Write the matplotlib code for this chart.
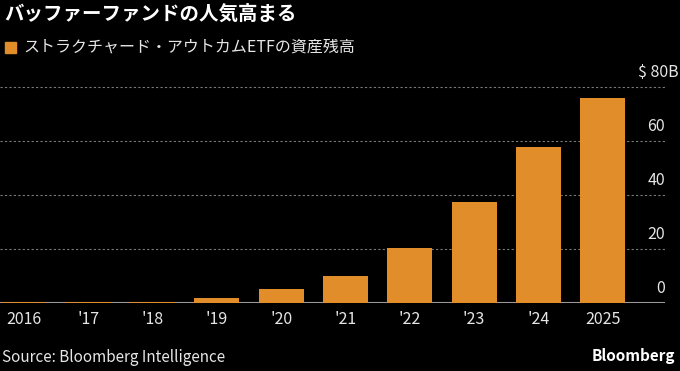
import matplotlib
matplotlib.use("Agg")
import matplotlib.pyplot as plt
from matplotlib.transforms import offset_copy, blended_transform_factory
from matplotlib.patches import Rectangle

plt.rcParams['font.family'] = ['Noto Sans CJK JP', 'DejaVu Sans']

years = ["2016", "'17", "'18", "'19", "'20", "'21", "'22", "'23", "'24", "2025"]
assets = [0.3, 0.4, 0.4, 1.9, 5.2, 10.0, 20.4, 37.4, 57.8, 75.9]
yticks = [0, 20, 40, 60, 80]
ylabels = ["0", "20", "40", "60", "$ 80B"]

title = "バッファーファンドの人気高まる"
legend_label = "ストラクチャード・アウトカムETFの資産残高"
source = "Source: Bloomberg Intelligence"

bg = "black"
bar_color = "#E08D2A"
text_color = "#E6E6E6"
grid_color = "#7a7a7a"

fig = plt.figure(figsize=(6.8, 3.71), dpi=100, facecolor=bg)
ax = fig.add_axes([0.0, 0.1833, 0.978, 0.5822], facecolor=bg)

x = list(range(len(years)))
ax.bar(x, assets, width=0.70, color=bar_color, zorder=3)

ax.set_xlim(-0.373, 9.97)
ax.set_ylim(0, 80)

for v in yticks[1:]:
    ax.axhline(v, color=grid_color, lw=0.8, ls=(0, (2, 2)), zorder=1, clip_on=False)
ax.axhline(0, color="#9a9a9a", lw=1.5, zorder=2)

for v, lab in zip(yticks, ylabels):
    if lab.endswith("B"):
        base = blended_transform_factory(fig.transFigure, ax.transData)
        xpos = 679 / 680
    else:
        base = ax.transData
        xpos = 9.97
    ax.text(xpos, v, lab, transform=offset_copy(base, fig=fig, x=0, y=4, units='points'),
            ha='right', va='bottom', color=text_color, fontsize=11.5, clip_on=False)

ax.set_xticks(x)
ax.set_xticklabels(years, color=text_color, fontsize=11.5)
ax.tick_params(axis='x', length=0, pad=6)
ax.set_yticks([])
for s in ax.spines.values():
    s.set_visible(False)

fig.text(0.006, 0.962, title, color="white", fontsize=14, fontweight='bold', va='center', ha='left')
fig.patches.append(Rectangle((5/680, 1-53/371), 11/680, 11/371, transform=fig.transFigure,
                             color=bar_color, figure=fig))
fig.text(23/680, 1-47/371, legend_label, color=text_color, fontsize=11.5, va='center', ha='left')
fig.text(0.003, 1-358/371, source, color=text_color, fontsize=11, va='center', ha='left')
fig.text(0.993, 1-356/371, "Bloomberg", color="white", fontsize=11, fontweight='bold',
         va='center', ha='right')

fig.savefig("out.png", dpi=100, facecolor=bg)
